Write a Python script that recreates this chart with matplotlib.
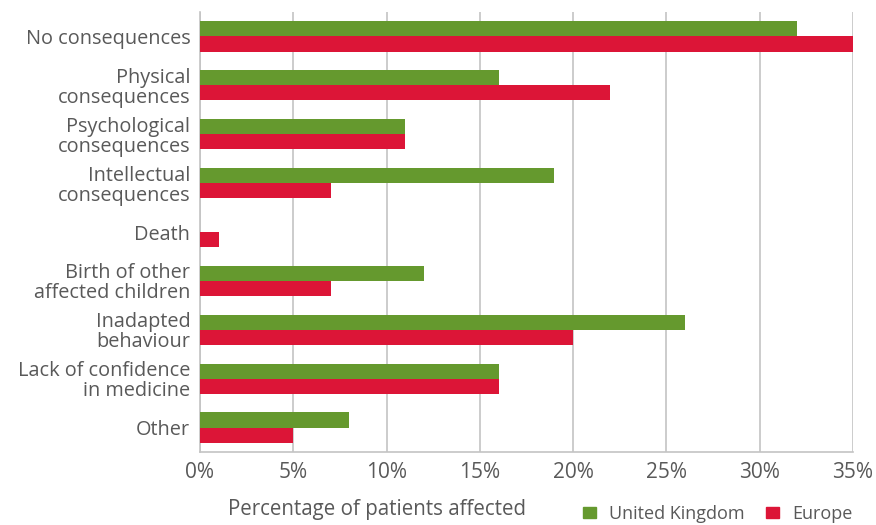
import numpy as np
import matplotlib
matplotlib.use("Agg")
from matplotlib import pyplot as plt
from matplotlib.patches import Patch

categories = ["No consequences", "Physical\nconsequences", "Psychological\nconsequences",
              "Intellectual\nconsequences", "Death", "Birth of other\naffected children",
              "Inadapted\nbehaviour", "Lack of confidence\nin medicine", "Other"]
uk = [32, 16, 11, 19, 0, 12, 26, 16, 8]
europe = [35, 22, 11, 7, 1, 7, 20, 16, 5]
xticks = [0, 5, 10, 15, 20, 25, 30, 35]

green = "#65992e"
red = "#dc1537"
txt = "#595959"

plt.rcParams['font.family'] = ['Open Sans', 'DejaVu Sans']

fig = plt.figure(figsize=(8.76, 5.25), dpi=100)
ax = fig.add_axes([200/876, 1-452/525, 653/876, 440/525])

y = np.arange(len(categories))
h = 0.31
ax.barh(y - h/2, uk, height=h, color=green, zorder=3)
ax.barh(y + h/2, europe, height=h, color=red, zorder=3)

ax.set_ylim(len(categories) - 0.5, -0.5)
ax.set_xlim(0, 35)
ax.set_xticks(xticks)
ax.set_xticklabels([f"{t}%" for t in xticks], fontsize=15, color=txt)
ax.set_yticks(y)
ax.set_yticklabels(categories, fontsize=14.3, color=txt, linespacing=1.0)
ax.tick_params(axis='both', length=0)
ax.tick_params(axis='y', pad=7)
ax.tick_params(axis='x', pad=7)
ax.xaxis.grid(True, color="#c4c4c4", linewidth=1.2, zorder=0)

for s in ["top", "right"]:
    ax.spines[s].set_visible(False)
ax.spines["left"].set_color("#c4c4c4")
ax.spines["bottom"].set_color("#c4c4c4")
ax.spines["left"].set_linewidth(1.2)
ax.spines["bottom"].set_linewidth(1.2)

fig.text(377/876, 1-510/525, "Percentage of patients affected", ha="center", va="center",
         fontsize=14.8, color=txt)

handles = [Patch(color=green, label="United Kingdom"), Patch(color=red, label="Europe")]
fig.legend(handles=handles, loc="center", bbox_to_anchor=(718/876, 1-514/525), ncol=2,
           frameon=False, fontsize=13, labelcolor=txt, handlelength=0.7, handleheight=0.55,
           columnspacing=1.2, handletextpad=0.75)

plt.savefig("out.png")
